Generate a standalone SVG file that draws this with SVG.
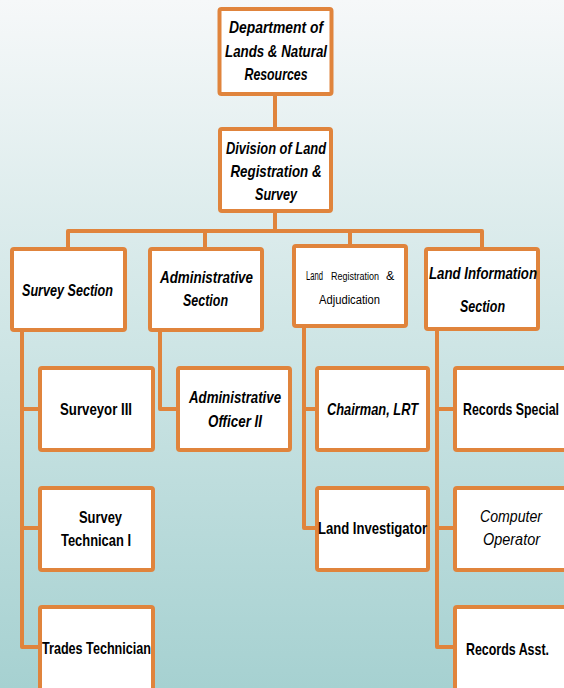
<svg xmlns="http://www.w3.org/2000/svg" width="564" height="688" viewBox="0 0 564 688">
<defs>
<linearGradient id="bg" x1="0" y1="0" x2="0" y2="1">
<stop offset="0" stop-color="#f6f8f9"/>
<stop offset="0.45" stop-color="#d2e7e7"/>
<stop offset="1" stop-color="#a6d1d1"/>
</linearGradient>
<style>
.box{fill:#ffffff;stroke:#e0843c;stroke-width:4;}
.con{fill:none;stroke:#e0843c;stroke-width:4;stroke-linejoin:round;}
text{font-family:"Liberation Sans",Arial,sans-serif;fill:#000;text-anchor:middle;}
.bi{font-size:17px;font-weight:bold;font-style:italic;}
.b{font-size:17px;font-weight:bold;}
.i{font-size:17px;font-style:italic;}
.r{font-size:12.5px;text-anchor:start;}
.rs{font-size:10.5px;text-anchor:start;}
</style>
</defs>
<rect x="0" y="0" width="564" height="688" fill="url(#bg)"/>
<g id="connectors">
<path class="con" d="M275 96V127"/>
<path class="con" d="M275 213V231"/>
<path class="con" d="M68 247V231H482V247"/>
<path class="con" d="M205 231V247"/>
<path class="con" d="M350 231V244"/>
<path class="con" d="M22 332V647H38M22 409H38M22 528H38"/>
<path class="con" d="M160 332V409H176"/>
<path class="con" d="M304 328V528H315M304 409H315"/>
<path class="con" d="M437 331V647H453M437 409H453M437 528H453"/>
</g>
<g id="dept">
<rect class="box" x="219.5" y="9" width="112" height="85" rx="2"/>
<text class="bi" x="276" y="33" textLength="94" lengthAdjust="spacingAndGlyphs">Department of</text>
<text class="bi" x="276" y="57" textLength="102" lengthAdjust="spacingAndGlyphs">Lands &amp; Natural</text>
<text class="bi" x="276" y="80" textLength="63" lengthAdjust="spacingAndGlyphs">Resources</text>
</g>
<g id="division">
<rect class="box" x="220" y="129" width="111" height="82" rx="2"/>
<text class="bi" x="276" y="154" textLength="100" lengthAdjust="spacingAndGlyphs">Division of Land</text>
<text class="bi" x="276" y="177" textLength="91" lengthAdjust="spacingAndGlyphs">Registration &amp;</text>
<text class="bi" x="276" y="200" textLength="42" lengthAdjust="spacingAndGlyphs">Survey</text>
</g>
<g id="survey-section">
<rect class="box" x="12" y="249" width="113" height="81" rx="2"/>
<text class="bi" x="67.5" y="296" textLength="91" lengthAdjust="spacingAndGlyphs">Survey Section</text>
</g>
<g id="admin-section">
<rect class="box" x="150" y="249" width="112" height="81" rx="2"/>
<text class="bi" x="206.5" y="283" textLength="93" lengthAdjust="spacingAndGlyphs">Administrative</text>
<text class="bi" x="205.5" y="306" textLength="45" lengthAdjust="spacingAndGlyphs">Section</text>
</g>
<g id="land-registration">
<rect class="box" x="294" y="246" width="112" height="80" rx="2"/>
<text class="r" x="306" y="280" textLength="17" lengthAdjust="spacingAndGlyphs">Land</text>
<text class="rs" x="331" y="280" textLength="48" lengthAdjust="spacingAndGlyphs">Registration</text>
<text class="r" x="386" y="280">&amp;</text>
<text class="r" x="319" y="304" textLength="61" lengthAdjust="spacingAndGlyphs">Adjudication</text>
</g>
<g id="land-information">
<rect class="box" x="426" y="249" width="112" height="80" rx="2"/>
<text class="bi" x="483" y="279" textLength="108" lengthAdjust="spacingAndGlyphs">Land Information</text>
<text class="bi" x="482.5" y="312" textLength="45" lengthAdjust="spacingAndGlyphs">Section</text>
</g>
<g id="surveyor-iii">
<rect class="box" x="40" y="368" width="113" height="82" rx="2"/>
<text class="b" x="96" y="415" textLength="72" lengthAdjust="spacingAndGlyphs">Surveyor III</text>
</g>
<g id="survey-technican">
<rect class="box" x="40" y="488" width="113" height="82" rx="2"/>
<text class="b" x="100.5" y="523" textLength="43" lengthAdjust="spacingAndGlyphs">Survey</text>
<text class="b" x="96" y="546" textLength="70" lengthAdjust="spacingAndGlyphs">Technican I</text>
</g>
<g id="trades-technician">
<rect class="box" x="40" y="607" width="113" height="95" rx="2"/>
<text class="b" x="96.5" y="654" textLength="109" lengthAdjust="spacingAndGlyphs">Trades Technician</text>
</g>
<g id="admin-officer">
<rect class="box" x="178" y="368" width="112" height="82" rx="2"/>
<text class="bi" x="235" y="403" textLength="92" lengthAdjust="spacingAndGlyphs">Administrative</text>
<text class="bi" x="235" y="427" textLength="54" lengthAdjust="spacingAndGlyphs">Officer II</text>
</g>
<g id="chairman">
<rect class="box" x="317" y="368" width="111" height="82" rx="2"/>
<text class="bi" x="372.5" y="415" textLength="91" lengthAdjust="spacingAndGlyphs">Chairman, LRT</text>
</g>
<g id="land-investigator">
<rect class="box" x="317" y="488" width="111" height="82" rx="2"/>
<text class="b" x="372.5" y="534" textLength="109" lengthAdjust="spacingAndGlyphs">Land Investigator</text>
</g>
<g id="records-special">
<rect class="box" x="455" y="368" width="115" height="82" rx="2"/>
<text class="b" x="511" y="415" textLength="96" lengthAdjust="spacingAndGlyphs">Records Special</text>
</g>
<g id="computer-operator">
<rect class="box" x="455" y="488" width="115" height="82" rx="2"/>
<text class="i" x="511" y="522" textLength="62" lengthAdjust="spacingAndGlyphs">Computer</text>
<text class="i" x="511.5" y="545" textLength="57" lengthAdjust="spacingAndGlyphs">Operator</text>
</g>
<g id="records-asst">
<rect class="box" x="455" y="607" width="115" height="95" rx="2"/>
<text class="b" x="507.5" y="655" textLength="83" lengthAdjust="spacingAndGlyphs">Records Asst.</text>
</g>
</svg>
